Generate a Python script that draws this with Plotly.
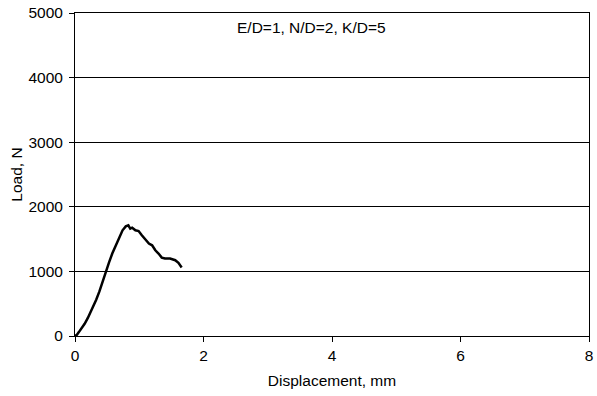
import plotly.graph_objects as go

disp = [0.0, 0.03, 0.06, 0.1, 0.15, 0.2, 0.27, 0.33, 0.38, 0.43, 0.48, 0.53, 0.58, 0.62, 0.66, 0.70, 0.74, 0.79, 0.83, 0.86, 0.89, 0.94, 0.99, 1.04, 1.10, 1.15, 1.20, 1.25, 1.30, 1.35, 1.40, 1.48, 1.56, 1.61, 1.66]
load = [0, 20, 60, 110, 190, 280, 420, 560, 690, 850, 1000, 1140, 1276, 1370, 1455, 1550, 1636, 1697, 1713, 1662, 1677, 1636, 1625, 1559, 1481, 1430, 1404, 1327, 1276, 1214, 1199, 1199, 1173, 1132, 1060]

fig = go.Figure()
fig.add_trace(go.Scatter(x=disp, y=load, mode="lines",
                         line=dict(color="black", width=2.5), showlegend=False))

font = dict(family="Liberation Sans, Arial", size=15.5, color="black")
fig.update_layout(
    width=597, height=396,
    margin=dict(l=75, r=4, t=12, b=60),
    paper_bgcolor="white", plot_bgcolor="white",
    font=font,
    xaxis=dict(range=[0, 8], tickvals=[0, 2, 4, 6, 8], ticks="outside", ticklen=5,
               tickcolor="black", showgrid=False, zeroline=False, showline=True,
               linecolor="black", linewidth=1, mirror=True, ticklabeloverflow="allow",
               title=dict(text="Displacement, mm", font=font, standoff=12)),
    yaxis=dict(range=[0, 5000], tickvals=[0, 1000, 2000, 3000, 4000, 5000], ticks="outside",
               ticklen=5, tickcolor="black", showgrid=True, gridcolor="black", gridwidth=1,
               zeroline=False, showline=True, linecolor="black", linewidth=1, mirror=True,
               ticklabelstandoff=3,
               title=dict(text="Load, N", font=font, standoff=1)),
    annotations=[dict(text="E/D=1, N/D=2, K/D=5", x=0.46, y=0.955, xref="paper", yref="paper",
                      showarrow=False, font=font, xanchor="center", yanchor="middle")],
)
fig.write_html("out.html")
